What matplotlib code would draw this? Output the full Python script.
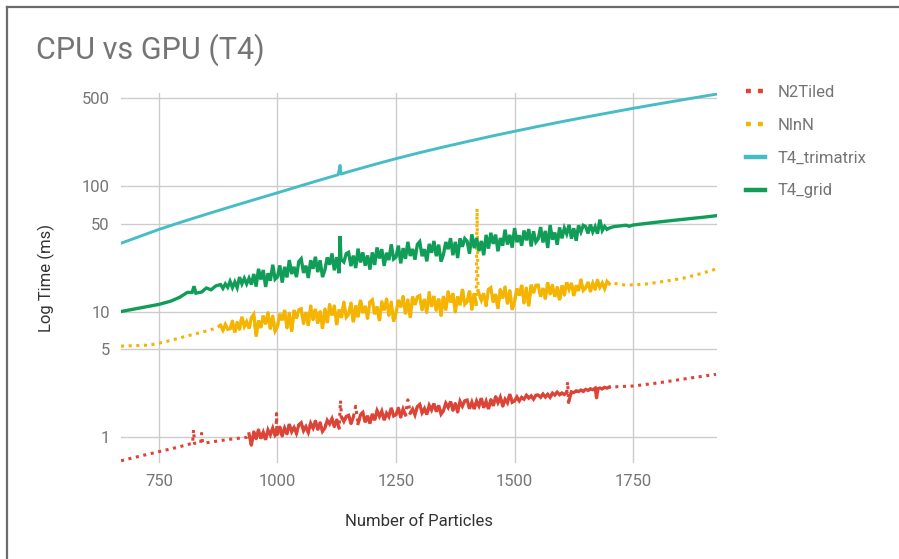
import matplotlib
matplotlib.use("Agg")
import matplotlib.pyplot as plt
from matplotlib.lines import Line2D
import numpy as np

plt.rcParams['font.family'] = ['Roboto', 'DejaVu Sans']

# ---------------- data ----------------
tri_n = [670, 700, 750, 800, 850, 900, 950, 1000, 1050, 1100, 1128, 1132, 1134,
         1150, 1200, 1250, 1300, 1350, 1400, 1450, 1500, 1550, 1600, 1650, 1700,
         1750, 1800, 1850, 1900, 1925]
tri_t = [35.0, 38.5, 45.1, 52.0, 59.6, 68.1, 77.6, 88.3, 100.7, 114.6, 123.0, 146.0, 124.5,
         130.0, 146.9, 165.2, 184.5, 204.6, 225.9, 248.9, 272.9, 298.5, 325.8, 354.0, 383.7,
         415.9, 448.7, 483.1, 520.0, 539.0]

grid_n = [670, 700, 750, 775, 794, 805, 810, 820, 824, 828, 840, 850, 860, 870,
          880, 885, 890, 895,
          900, 905, 910, 915, 920, 925, 930, 935, 940, 945,
          950, 955, 960, 965, 970, 975, 980, 985, 990, 995,
          1000, 1005, 1010, 1015, 1020, 1025, 1030, 1035, 1040, 1045,
          1050, 1055, 1060, 1065, 1070, 1075, 1080, 1085, 1090, 1095,
          1100, 1105, 1110, 1115, 1120, 1125, 1130, 1132, 1134, 1140, 1145,
          1150, 1155, 1160, 1165, 1170, 1175, 1180, 1185, 1190, 1195,
          1200, 1205, 1210, 1215, 1220, 1225, 1230, 1235, 1240, 1245,
          1250, 1255, 1260, 1265, 1270, 1275, 1280, 1285, 1290, 1295,
          1300, 1305, 1310, 1315, 1320, 1325, 1330, 1335, 1340, 1345,
          1350, 1355, 1360, 1365, 1370, 1375, 1380, 1385, 1390, 1395,
          1400, 1405, 1410, 1415, 1420, 1425, 1430, 1435, 1440, 1445,
          1450, 1455, 1460, 1465, 1470, 1475, 1480, 1485, 1490, 1495,
          1500, 1505, 1510, 1515, 1520, 1525, 1530, 1535, 1540, 1545,
          1550, 1555, 1560, 1565, 1570, 1575, 1580, 1585, 1590, 1595,
          1600, 1605, 1610, 1615, 1620, 1625, 1630, 1635, 1640, 1645,
          1650, 1655, 1660, 1665, 1670, 1675, 1680, 1685, 1690, 1695,
          1700, 1710, 1720, 1735, 1742, 1750, 1800, 1850, 1900, 1925]
grid_t = [10.0, 10.5, 11.4, 12.1, 13.0, 13.8, 14.2, 14.2, 15.9, 14.0, 14.3, 15.4, 14.9, 16.0,
          16.4, 15.3, 16.6, 15.6,
          17.4, 15.5, 17.2, 15.5, 18.8, 16.6, 18.4, 16.6, 18.4, 16.4,
          19.9, 15.8, 21.9, 18.0, 21.4, 15.7, 20.2, 17.6, 23.6, 18.1,
          18.9, 23.3, 17.0, 22.7, 18.7, 25.7, 19.9, 22.7, 18.8, 25.0,
          26.3, 20.3, 23.2, 18.5, 25.6, 21.9, 27.3, 20.6, 25.6, 18.8,
          21.4, 27.0, 23.6, 29.0, 21.3, 27.1, 20.2, 40.0, 26.0, 24.8, 28.9,
          29.6, 23.0, 27.9, 22.2, 31.7, 24.6, 29.6, 23.2, 28.0, 21.6,
          29.6, 23.5, 32.4, 26.5, 31.4, 23.1, 29.4, 25.7, 34.3, 26.2,
          27.2, 33.5, 24.2, 32.0, 26.3, 35.9, 27.7, 31.5, 25.9, 34.2,
          36.0, 27.6, 31.4, 25.1, 34.6, 29.4, 36.5, 27.6, 34.1, 25.0,
          28.4, 35.8, 31.4, 38.4, 28.1, 35.9, 26.7, 38.3, 32.8, 38.1,
          36.3, 28.9, 41.2, 32.0, 38.5, 30.3, 36.5, 28.1, 40.8, 31.7,
          42.4, 34.6, 41.0, 30.2, 38.5, 33.5, 44.9, 34.2, 40.8, 32.3,
          46.2, 35.7, 40.5, 33.5, 44.2, 36.9, 45.4, 33.0, 43.6, 35.8,
          38.0, 47.1, 35.5, 43.9, 32.1, 48.9, 37.4, 42.6, 34.0, 46.8,
          38.3, 46.2, 41.6, 49.1, 38.1, 46.1, 36.6, 48.6, 43.1, 48.6,
          47.5, 41.9, 49.3, 43.1, 47.4, 41.7, 54.0, 44.2, 47.6, 45.1,
          46.3, 47.5, 48.0, 48.7, 47.8, 48.9, 51.5, 54.0, 56.5, 58.0]

nlnn_n = [670, 700, 730, 760, 790, 810, 830, 850, 860, 870,
          880, 885, 890, 895,
          900, 905, 910, 915, 920, 925, 930, 935, 940, 945,
          950, 955, 960, 965, 970, 975, 980, 985, 990, 995,
          1000, 1005, 1010, 1015, 1020, 1025, 1030, 1035, 1040, 1045,
          1050, 1055, 1060, 1065, 1070, 1075, 1080, 1085, 1090, 1095,
          1100, 1105, 1110, 1115, 1120, 1125, 1130, 1135, 1140, 1145,
          1150, 1155, 1160, 1165, 1170, 1175, 1180, 1185, 1190, 1195,
          1200, 1205, 1210, 1215, 1220, 1225, 1230, 1235, 1240, 1245,
          1250, 1255, 1260, 1265, 1270, 1275, 1280, 1285, 1290, 1295,
          1300, 1305, 1310, 1315, 1320, 1325, 1330, 1335, 1340, 1345,
          1350, 1355, 1360, 1365, 1370, 1375, 1380, 1385, 1390, 1395,
          1400, 1405, 1410, 1415, 1419, 1421, 1423, 1430, 1435, 1440, 1445,
          1450, 1455, 1460, 1465, 1470, 1475, 1480, 1485, 1490, 1495,
          1500, 1505, 1510, 1515, 1520, 1525, 1530, 1535, 1540, 1545,
          1550, 1555, 1560, 1565, 1570, 1575, 1580, 1585, 1590, 1595,
          1600, 1605, 1610, 1615, 1620, 1625, 1630, 1635, 1640, 1645,
          1650, 1655, 1660, 1665, 1670, 1675, 1680, 1685, 1690, 1695,
          1700, 1708, 1730, 1750, 1780, 1820, 1855, 1890, 1925]
nlnn_t = [5.3, 5.35, 5.4, 5.7, 6.1, 6.4, 6.7, 7.0, 7.2, 7.3,
          7.8, 7.1, 7.9, 7.2,
          7.3, 8.4, 6.8, 8.2, 7.2, 9.1, 7.6, 8.3, 7.3, 8.9,
          9.5, 6.3, 8.5, 7.4, 9.3, 7.9, 9.8, 7.2, 9.2, 7.0,
          7.6, 9.6, 8.5, 10.3, 7.4, 9.7, 6.9, 10.3, 8.8, 10.3,
          10.5, 8.0, 9.9, 7.7, 11.1, 8.6, 10.5, 8.0, 10.0, 7.3,
          10.5, 8.1, 11.4, 9.3, 11.1, 7.8, 10.4, 8.9, 11.9, 9.0,
          9.5, 11.7, 8.2, 11.2, 9.0, 12.4, 9.7, 11.1, 8.8, 11.9,
          12.4, 9.5, 11.0, 8.4, 12.0, 10.2, 12.6, 9.3, 11.9, 8.3,
          9.7, 12.4, 10.8, 13.2, 9.5, 12.4, 8.9, 13.2, 11.3, 13.1,
          13.4, 10.3, 12.6, 9.8, 14.2, 10.9, 13.3, 10.2, 12.7, 9.3,
          13.3, 10.2, 14.4, 11.8, 14.0, 9.9, 13.2, 11.2, 15.1, 11.4,
          12.0, 14.7, 10.4, 14.0, 11.4, 66.0, 14.6, 12.3, 14.0, 11.1, 15.0,
          15.5, 11.8, 13.8, 10.5, 15.0, 12.7, 15.7, 11.6, 14.7, 10.3,
          12.0, 15.3, 13.4, 16.3, 11.7, 15.4, 11.0, 16.4, 14.0, 16.2,
          16.2, 13.1, 15.4, 12.7, 17.1, 13.8, 16.2, 13.1, 15.6, 12.3,
          16.2, 13.5, 17.1, 15.0, 16.9, 13.3, 16.2, 14.6, 17.9, 14.7,
          15.4, 17.2, 14.5, 16.8, 15.0, 17.8, 15.6, 16.9, 15.2, 17.4,
          16.6, 16.8, 16.3, 16.3, 16.6, 17.5, 18.4, 19.9, 21.8]

n2_n = [670, 700, 750, 790, 815, 821, 823, 825, 838, 840, 842, 850, 878, 900, 920, 935,
        940, 945, 950, 955, 960, 965, 970, 975, 980, 985, 990, 995, 997, 998, 999,
        1000, 1005, 1010, 1015, 1020, 1025, 1030, 1035, 1040, 1045,
        1050, 1055, 1060, 1065, 1070, 1075, 1080, 1085, 1090, 1095,
        1100, 1105, 1110, 1115, 1120, 1125, 1130, 1133, 1135, 1140, 1145,
        1150, 1155, 1160, 1165, 1170, 1175, 1180, 1185, 1190, 1195,
        1200, 1205, 1210, 1215, 1220, 1225, 1230, 1235, 1240, 1245,
        1250, 1255, 1260, 1265, 1270, 1275, 1280, 1285, 1290, 1295,
        1300, 1305, 1310, 1315, 1320, 1325, 1330, 1335, 1340, 1345,
        1350, 1355, 1360, 1365, 1370, 1375, 1380, 1385, 1390, 1395,
        1400, 1405, 1410, 1415, 1420, 1425, 1430, 1435, 1440, 1445,
        1450, 1455, 1460, 1465, 1470, 1475, 1480, 1485, 1490, 1495,
        1500, 1505, 1510, 1515, 1520, 1525, 1530, 1535, 1540, 1545,
        1550, 1555, 1560, 1565, 1570, 1575, 1580, 1585, 1590, 1595,
        1600, 1605, 1610, 1612, 1614, 1620, 1625, 1630, 1635, 1640, 1645,
        1650, 1655, 1660, 1665, 1670, 1673, 1676, 1680, 1685, 1690, 1695,
        1700, 1720, 1750, 1790, 1820, 1870, 1925]
n2_t = [0.647, 0.69, 0.764, 0.83, 0.88, 0.89, 1.14, 0.89, 0.90, 1.07, 0.90, 0.90, 0.935, 0.96, 0.98, 0.995,
        1.06, 0.86, 1.10, 0.97, 1.14, 0.97, 1.09, 0.95, 1.14, 1.04, 1.18, 1.03, 1.05, 1.54, 1.08,
        1.05, 1.20, 1.02, 1.18, 1.06, 1.27, 1.10, 1.19, 1.07, 1.25,
        1.30, 1.12, 1.21, 1.09, 1.29, 1.18, 1.34, 1.15, 1.30, 1.11,
        1.18, 1.36, 1.27, 1.40, 1.21, 1.37, 1.18, 1.95, 1.44, 1.33, 1.46,
        1.49, 1.28, 1.44, 1.76, 1.28, 1.50, 1.57, 1.31, 1.48, 1.28,
        1.53, 1.36, 1.62, 1.46, 1.61, 1.36, 1.55, 1.45, 1.71, 1.47,
        1.51, 1.70, 1.44, 1.67, 1.50, 1.98, 1.55, 1.67, 1.50, 1.75,
        1.82, 1.56, 1.69, 1.51, 1.79, 1.64, 1.85, 1.59, 1.79, 1.52,
        1.62, 1.86, 1.72, 1.92, 1.63, 1.85, 1.58, 1.93, 1.76, 1.94,
        1.97, 1.68, 1.90, 1.67, 1.94, 1.77, 2.04, 1.71, 1.93, 1.67,
        1.99, 1.77, 2.10, 1.88, 2.08, 1.76, 2.00, 1.87, 2.20, 1.89,
        1.94, 2.09, 1.94, 2.07, 2.00, 2.15, 2.04, 2.13, 2.00, 2.15,
        2.16, 2.07, 2.20, 2.08, 2.19, 2.07, 2.24, 2.16, 2.28, 2.17,
        2.24, 2.18, 2.27, 2.75, 1.90, 2.29, 2.26, 2.33, 2.30, 2.37, 2.31,
        2.40, 2.35, 2.42, 2.38, 2.45, 2.05, 2.43, 2.46, 2.42, 2.49, 2.45,
        2.50, 2.52, 2.55, 2.66, 2.76, 2.95, 3.16]

# dense (noisy) stretches of the dotted series and their isolated spikes
nlnn_dense = (875, 1700)
nlnn_spikes = [1421]
n2_dense = (937, 1700)
n2_spikes = [823, 840, 998, 1133, 1165, 1275, 1612]

labels = ["N2Tiled", "NlnN", "T4_trimatrix", "T4_grid"]
colors = ["#DB4437", "#F4B400", "#46BDC6", "#0F9D58"]
y_ticks = [1, 5, 10, 50, 100, 500]
x_ticks = [750, 1000, 1250, 1500, 1750]


def dense_part(n, t, rng, spikes):
    n = np.asarray(n, float)
    t = np.asarray(t, float)
    keep = (n >= rng[0]) & (n <= rng[1]) & ~np.isin(n, spikes)
    return n, np.where(keep, t, np.nan)


# ---------------- figure ----------------
fig = plt.figure(figsize=(8.99, 5.59), dpi=100)
ax = fig.add_axes([121 / 899, 96 / 559, 596 / 899, 370 / 559])

dot = (0, (1, 1.5))
ax.plot(tri_n, tri_t, color=colors[2], lw=2.1, zorder=3, solid_joinstyle='round')
ax.plot(grid_n, grid_t, color=colors[3], lw=2.4, zorder=4, solid_joinstyle='miter')

ax.plot(nlnn_n, nlnn_t, color=colors[1], lw=2.2, linestyle=dot, dash_capstyle='butt', zorder=2)
xn, yn = dense_part(nlnn_n, nlnn_t, nlnn_dense, nlnn_spikes)
ax.plot(xn, yn, color=colors[1], lw=2.3, zorder=2, solid_joinstyle='miter')

ax.plot(n2_n, n2_t, color=colors[0], lw=2.2, linestyle=dot, dash_capstyle='butt', zorder=2)
xr, yr = dense_part(n2_n, n2_t, n2_dense, n2_spikes)
ax.plot(xr, yr, color=colors[0], lw=2.3, zorder=2, solid_joinstyle='miter')

ax.set_yscale('log')
ax.set_xlim(670, 1927)
ax.set_ylim(0.621, 551)
ax.set_yticks(y_ticks)
ax.set_yticklabels([str(v) for v in y_ticks])
ax.yaxis.set_minor_locator(matplotlib.ticker.NullLocator())
ax.set_xticks(x_ticks)
ax.set_xticklabels([str(v) for v in x_ticks])

ax.grid(True, color="#CCCCCC", lw=1.0, zorder=0)
ax.set_axisbelow(True)
for s in ax.spines.values():
    s.set_visible(False)
ax.tick_params(axis='both', length=0, labelsize=12, colors="#757575", pad=8)
ax.tick_params(axis='x', pad=8)

ax.set_xlabel("Number of Particles", fontsize=12, color="#333333", labelpad=18)
ax.set_ylabel("Log Time (ms)", fontsize=12, color="#333333", labelpad=19)

fig.text(36 / 899, 1 - 50 / 559, "CPU vs GPU (T4)", fontsize=22, color="#757575",
         va='center', ha='left')

handles = [
    Line2D([], [], color=colors[0], lw=3.2, linestyle=(0, (1.1, 1.6)), dash_capstyle='butt'),
    Line2D([], [], color=colors[1], lw=3.2, linestyle=(0, (1.1, 1.6)), dash_capstyle='butt'),
    Line2D([], [], color=colors[2], lw=3.2),
    Line2D([], [], color=colors[3], lw=3.2),
]
leg = fig.legend(handles, labels, loc='upper left', bbox_to_anchor=(746 / 899, 1 - 85 / 559),
                 frameon=False, fontsize=12, handlelength=1.15, handletextpad=0.75,
                 labelspacing=1.07, borderaxespad=0, borderpad=0)
for t in leg.get_texts():
    t.set_color("#757575")

# screenshot frame (top and left edges)
fig.add_artist(Line2D([7 / 899, 7 / 899], [0, 1 - 7 / 559], color="#6b6b6b", lw=1.6,
                      transform=fig.transFigure))
fig.add_artist(Line2D([7 / 899, 1], [1 - 7 / 559, 1 - 7 / 559], color="#6b6b6b", lw=1.6,
                      transform=fig.transFigure))

fig.savefig("out.png", dpi=100)
